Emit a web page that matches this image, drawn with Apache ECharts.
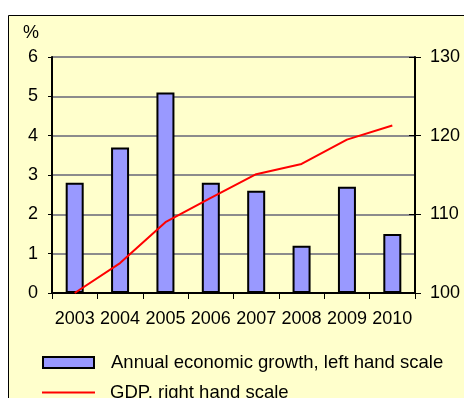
<!DOCTYPE html>
<html>
<head>
<meta charset="utf-8">
<style>
  html, body { margin: 0; padding: 0; background: #ffffff; }
  #chart { width: 464px; height: 398px; }
</style>
<script src="https://cdn.jsdelivr.net/npm/echarts@6/dist/echarts.min.js"></script>
</head>
<body>
<div id="chart"></div>
<script>
// Categories and values
const years = ['2003', '2004', '2005', '2006', '2007', '2008', '2009', '2010'];
const growth = [2.8, 3.7, 5.1, 2.8, 2.6, 1.2, 2.7, 1.5];          // % (left scale)
const gdp = [100, 103.8, 109.0, 112.1, 115.1, 116.4, 119.5, 121.3]; // index (right scale)
const growthName = 'Annual economic growth, left hand scale';
const gdpName = 'GDP, right hand scale';
const unitLabel = '%';

const FONT = '"Liberation Sans", Arial, sans-serif';
const FS = 18;       // axis labels
const FS_LEG = 18.5; // legend labels

const chart = echarts.init(document.getElementById('chart'), null, { renderer: 'canvas' });

chart.setOption({
  animation: false,
  textStyle: { fontFamily: FONT, color: '#000' },
  graphic: [
    {
      type: 'rect', z: -100, silent: true,
      shape: { x: 8.5, y: 15.5, width: 520, height: 450 },
      style: { fill: '#FFFFCC', stroke: '#000', lineWidth: 1 }
    },
    {
      type: 'text', left: 23, top: 24, silent: true,
      style: { text: unitLabel, font: FS + 'px ' + FONT, fill: '#000' }
    }
  ],
  grid: { left: 52, right: 49, top: 57, bottom: 105, containLabel: false },
  legend: [
    {
      left: 42, top: 353, padding: 0, itemWidth: 51, itemHeight: 11, itemGap: 0, selectedMode: false,
      data: [{ name: growthName, icon: 'rect' }],
      textStyle: { fontFamily: FONT, fontSize: FS_LEG, color: '#000', padding: [0, 0, 0, 12] }
    },
    {
      left: 42, top: 383, padding: 0, itemWidth: 53, itemHeight: 2, itemGap: 0, selectedMode: false,
      data: [{ name: gdpName, icon: 'rect' }],
      textStyle: { fontFamily: FONT, fontSize: FS_LEG, color: '#000', padding: [0, 0, 0, 10] }
    }
  ],
  xAxis: {
    type: 'category', data: years, boundaryGap: true,
    axisLine: { lineStyle: { color: '#000', width: 2 } },
    axisTick: { show: true, alignWithLabel: false, length: 6, lineStyle: { color: '#000', width: 1 } },
    axisLabel: { fontSize: FS, color: '#000', fontFamily: FONT, margin: 17, interval: 0 },
    splitLine: { show: false }
  },
  yAxis: [
    {
      type: 'value', min: 0, max: 6, interval: 1, position: 'left',
      axisLine: { show: true, lineStyle: { color: '#000', width: 2 } },
      axisTick: { show: true, length: 4, lineStyle: { color: '#000', width: 1 } },
      axisLabel: { fontSize: FS, color: '#000', fontFamily: FONT, margin: 14 },
      splitLine: { show: true, lineStyle: { color: '#8c8c8c', width: 2 } }
    },
    {
      type: 'value', min: 100, max: 130, interval: 10, position: 'right',
      axisLine: { show: true, lineStyle: { color: '#000', width: 2 } },
      axisTick: { show: true, length: 6, lineStyle: { color: '#000', width: 1 } },
      axisLabel: { fontSize: FS, color: '#000', fontFamily: FONT, margin: 15 },
      splitLine: { show: false }
    },
    {
      // inward half of the right-hand tick marks
      type: 'value', min: 100, max: 130, interval: 10, position: 'right',
      axisLine: { show: false },
      axisTick: { show: true, inside: true, length: 6, lineStyle: { color: '#000', width: 1 } },
      axisLabel: { show: false },
      splitLine: { show: false }
    }
  ],
  series: [
    {
      name: growthName, type: 'bar', data: growth, yAxisIndex: 0, barWidth: 18,
      itemStyle: { color: '#9999FF', borderColor: '#000', borderWidth: 2 }
    },
    {
      name: gdpName, type: 'line', data: gdp, yAxisIndex: 1,
      symbol: 'none', z: 5,
      lineStyle: { color: '#FF0000', width: 2 },
      itemStyle: { color: '#FF0000' }
    }
  ]
});
</script>
</body>
</html>
